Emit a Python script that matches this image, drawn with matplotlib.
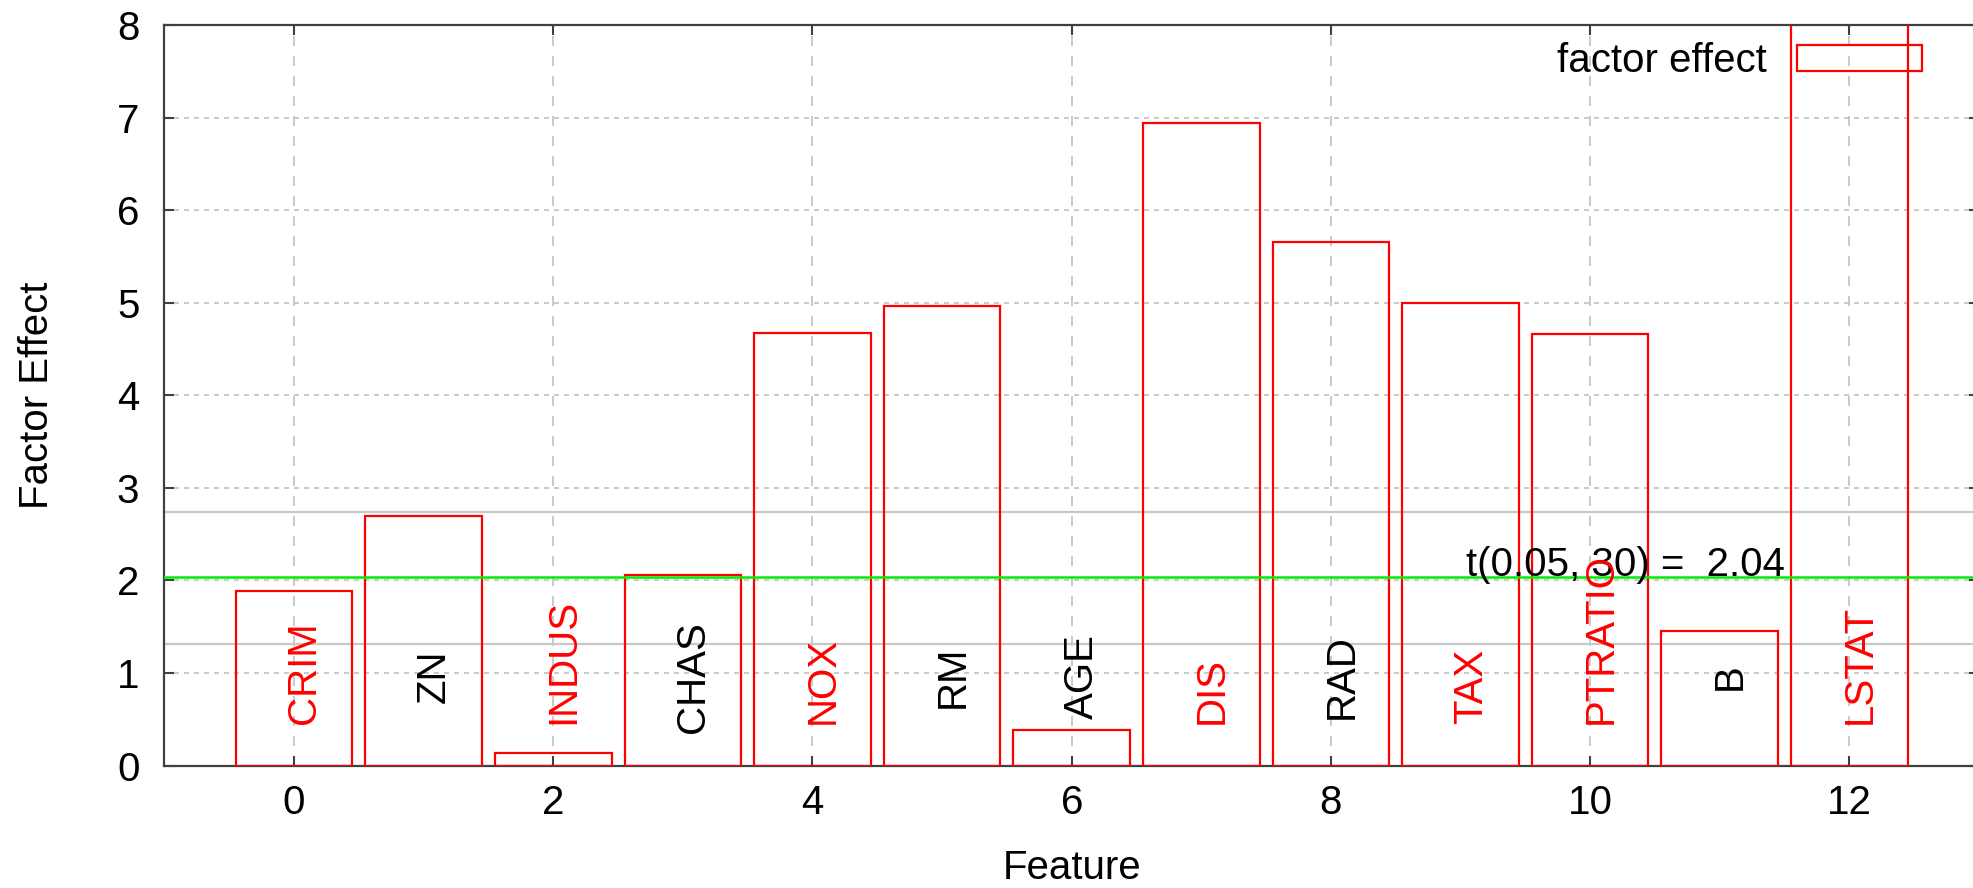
import numpy as np
import matplotlib
matplotlib.use("Agg")
import matplotlib.pyplot as plt

plt.rcParams['font.family'] = ['Liberation Sans', 'DejaVu Sans']

# data
features = ["CRIM", "ZN", "INDUS", "CHAS", "NOX", "RM", "AGE",
            "DIS", "RAD", "TAX", "PTRATIO", "B", "LSTAT"]
effects = [1.89, 2.70, 0.13, 2.06, 4.67, 4.96, 0.38,
           6.94, 5.66, 5.00, 4.66, 1.45, 9.5]
highlight = [True, False, True, False, True, False, False,
             True, False, True, True, False, True]
t_crit = 2.04
t_text = "t(0.05, 30) =  2.04"
ref_lines = [2.74, 1.31]

fs = 29
fig = plt.figure(figsize=(19.74, 8.88), dpi=100)
ax = fig.add_axes([164.4 / 1974, 122.5 / 888, 1814.6 / 1974, 740.5 / 888])

x = np.arange(len(features))
ax.bar(x, effects, width=0.9, fill=False, edgecolor='#ff0000',
       linewidth=1.6, label='factor effect', zorder=3)

for y in ref_lines:
    ax.axhline(y, color='#c8c8c8', lw=1.6, zorder=2)
ax.axhline(t_crit, color='#00ee00', lw=1.8, zorder=4)
ax.text(11.5, t_crit + 0.01, t_text, ha='right', va='baseline',
        fontsize=fs, zorder=5)

for i, name in enumerate(features):
    if highlight[i]:
        ax.text(i + 0.08, 0.45, name, rotation=90, ha='center', va='bottom',
                color='#ff0000', fontsize=fs, zorder=5)
    else:
        ax.text(i + 0.08, 0.96, name, rotation=90, ha='center', va='center',
                color='black', fontsize=fs, zorder=5)

ax.set_xlim(-1, 13)
ax.set_ylim(0, 8)
ax.set_xticks(range(0, 13, 2))
ax.set_yticks(range(0, 9))

ax.xaxis.grid(True, color='#c0c0c0', lw=1.2, linestyle=(0, (6, 6)))
ax.yaxis.grid(True, color='#c0c0c0', lw=1.2, linestyle=(0, (3, 3)))
ax.set_axisbelow(True)

ax.tick_params(direction='in', length=7, width=1.5, top=True, right=True,
               labelsize=fs, colors='#404040', labelcolor='black')
ax.tick_params(axis='y', pad=18)
ax.tick_params(axis='x', pad=13)
for s in ax.spines.values():
    s.set_color('#404040')
    s.set_linewidth(1.6)

ax.set_xlabel("Feature", fontsize=fs)
ax.set_ylabel("Factor Effect", fontsize=fs)
ax.xaxis.set_label_coords(0.5, -0.113)
ax.yaxis.set_label_coords(-0.06, 0.5)

ax.legend(loc='upper right', bbox_to_anchor=(1922 / 1974, 1 - 42 / 888),
          bbox_transform=fig.transFigure, frameon=False, markerfirst=False,
          fontsize=fs, handlelength=3.1, handleheight=0.6, handletextpad=0.75,
          borderpad=0, borderaxespad=0)

fig.savefig("out.png", dpi=100)
